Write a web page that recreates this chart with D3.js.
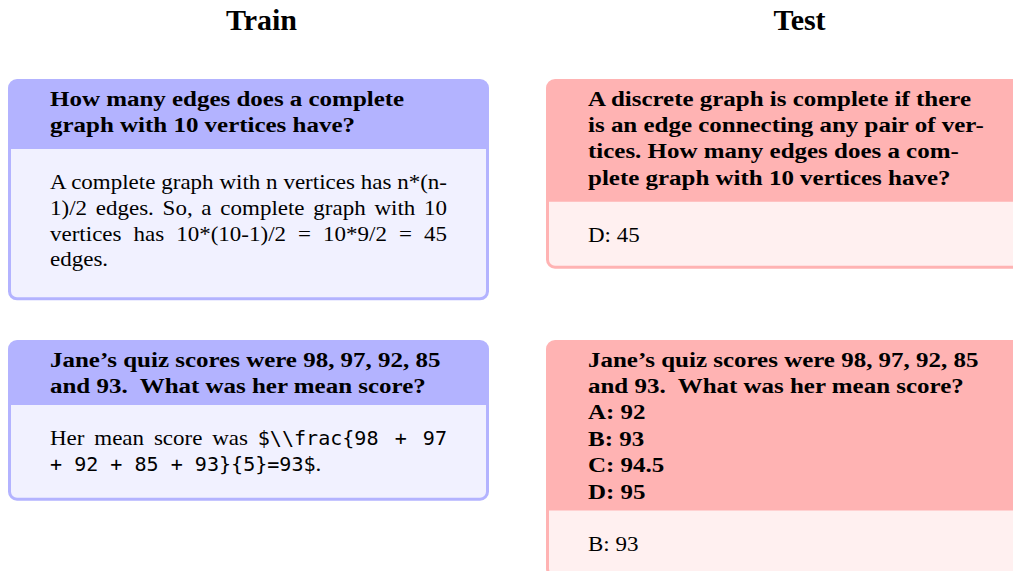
<!DOCTYPE html>
<html>
<head>
<meta charset="utf-8">
<script src="https://cdn.jsdelivr.net/npm/d3@7"></script>
<style>
  html, body { margin: 0; padding: 0; background: #fff; overflow: hidden; }
</style>
</head>
<body>
<svg id="fig" width="1013" height="571"></svg>
<script>
// ---- Content ----
const columnTitles = ["Train", "Test"];

const trainQ1 = ["How many edges does a complete", "graph with 10 vertices have?"];
const trainA1 = [
  [["A complete graph with n vertices has n*(n-", "serif"]],
  [["1)/2 edges. So, a complete graph with 10", "serif"]],
  [["vertices has 10*(10-1)/2 = 10*9/2 = 45", "serif"]],
  [["edges.", "serif"]]
];
const trainQ2 = ["Jane’s quiz scores were 98, 97, 92, 85", "and 93.  What was her mean score?"];
const trainA2 = [
  [["Her mean score was ", "serif"], ["$\\\\frac{98 + 97", "mono"]],
  [["+ 92 + 85 + 93}{5}=93$", "mono"], [".", "serif"]]
];

const testQ1 = ["A discrete graph is complete if there", "is an edge connecting any pair of ver-",
                "tices. How many edges does a com-", "plete graph with 10 vertices have?"];
const testA1 = [[["D: 45", "serif"]]];
const testQ2 = ["Jane’s quiz scores were 98, 97, 92, 85", "and 93.  What was her mean score?",
                "A: 92", "B: 93", "C: 94.5", "D: 95"];
const testA2 = [[["B: 93", "serif"]]];

const boxes = [
  {col: 0, row: 0, q: trainQ1, a: trainA1, theme: "train", justify: true},
  {col: 0, row: 1, q: trainQ2, a: trainA2, theme: "train", justify: true},
  {col: 1, row: 0, q: testQ1, a: testA1, theme: "test", justify: false},
  {col: 1, row: 1, q: testQ2, a: testA2, theme: "test", justify: false}
];

// ---- Style / layout ----
const themes = {
  train: {frame: "#b3b3ff", back: "#f1f1ff"},
  test:  {frame: "#ffb3b3", back: "#fff0f0"}
};
const colX = [8, 546];
const rowY = [79, 340];
const boxW = 481;
const border = 3;
const radius = 9;
const padX = 42;
const headFirst = 26.5, headLine = 26.4;
const bodyFirst = 40, bodyLine = 25.8;
const fontSize = 22;
const boldScale = 1.135, regScale = 1.045;
const monoSize = 19.2;
const targetW = 397;

const serifFam = "'Liberation Serif', 'Times New Roman', serif";
const monoFam = "'DejaVu Sans Mono', 'Liberation Mono', monospace";

const svg = d3.select("#fig");

// column titles
const xCol = d3.scaleOrdinal().domain(columnTitles).range(colX.map(x => x + boxW / 2 + 13));
svg.selectAll("text.coltitle").data(columnTitles).join("text")
  .attr("class", "coltitle")
  .attr("x", d => xCol(d))
  .attr("y", 30)
  .attr("text-anchor", "middle")
  .attr("font-family", serifFam)
  .attr("font-weight", "bold")
  .attr("font-size", 30)
  .attr("fill", "#000")
  .text(d => d);

const headDepth = s => /[gjpqy,]/.test(s) ? 17 : 12;
const bodyDepth = s => /[gjpqy]/.test(s) ? 34 : (/[{}$()]/.test(s) ? 30 : 27);

boxes.forEach(b => {
  const th = themes[b.theme];
  const x0 = colX[b.col], y0 = rowY[b.row];
  const qY = b.q.map((_, i) => headFirst + i * headLine);
  const headH = qY[qY.length - 1] + headDepth(b.q[b.q.length - 1]);
  const aY = b.a.map((_, i) => headH + bodyFirst + i * bodyLine);
  const lastA = b.a[b.a.length - 1].map(s => s[0]).join("");
  const H = aY[aY.length - 1] + bodyDepth(lastA);
  const bodyH = H - border - headH;

  const g = svg.append("g").attr("transform", `translate(${x0},${y0})`);

  // frame (also title background)
  g.append("rect").attr("x", 0).attr("y", 0).attr("width", boxW).attr("height", H)
    .attr("rx", radius).attr("ry", radius).attr("fill", th.frame);
  // body background, rounded bottom corners
  const ix = border, iy = headH, iw = boxW - 2 * border, ih = bodyH, r = radius - border;
  const p = d3.path();
  p.moveTo(ix, iy);
  p.lineTo(ix + iw, iy);
  p.lineTo(ix + iw, iy + ih - r);
  p.arcTo(ix + iw, iy + ih, ix + iw - r, iy + ih, r);
  p.lineTo(ix + r, iy + ih);
  p.arcTo(ix, iy + ih, ix, iy + ih - r, r);
  p.closePath();
  g.append("path").attr("d", p.toString()).attr("fill", th.back);

  // question (bold)
  g.selectAll("text.q").data(b.q).join("text")
    .attr("class", "q")
    .attr("transform", (d, i) => `translate(${padX},${qY[i]}) scale(${boldScale},1)`)
    .attr("font-family", serifFam)
    .attr("font-weight", "bold")
    .attr("font-size", fontSize)
    .attr("fill", "#000")
    .style("white-space", "pre")
    .text(d => d);

  // answer
  const lines = g.selectAll("text.a").data(b.a).join("text")
    .attr("class", "a")
    .attr("transform", (d, i) => `translate(${padX},${aY[i]}) scale(${regScale},1)`)
    .attr("fill", "#000")
    .style("white-space", "pre");
  lines.each(function(segs, li) {
    const t = d3.select(this);
    segs.forEach(([s, kind]) => {
      t.append("tspan")
        .attr("font-family", kind === "mono" ? monoFam : serifFam)
        .attr("font-size", kind === "mono" ? monoSize : fontSize)
        .text(s);
    });
    if (b.justify && li < b.a.length - 1) {
      const nat = this.getComputedTextLength();
      const goal = targetW / regScale;
      const nSpaces = segs.map(s => s[0]).join("").split(" ").length - 1;
      if (nSpaces > 0 && nat < goal) {
        t.attr("word-spacing", (goal - nat) / nSpaces);
      }
    }
  });
});
</script>
</body>
</html>
